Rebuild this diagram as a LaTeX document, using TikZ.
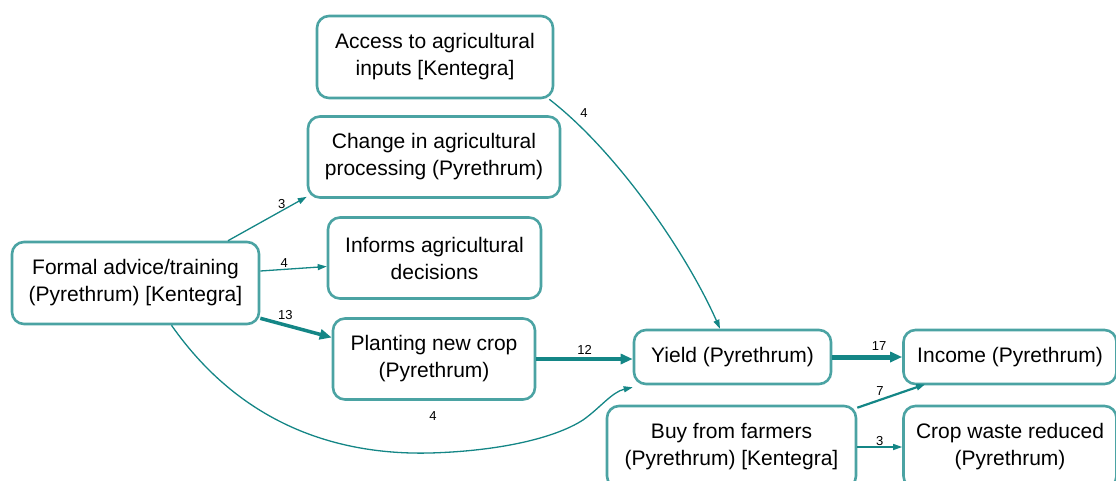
\documentclass[tikz,border=0pt]{standalone}
\usepackage{fontspec}
\setmainfont{Liberation Sans}
\usetikzlibrary{arrows.meta}
\definecolor{boxc}{RGB}{75,163,163}
\definecolor{edgec}{RGB}{20,134,134}
\tikzset{
  box/.style={draw=boxc, line width=2.6pt, rounded corners=12pt, fill=white,
    align=center, inner sep=0pt, font=\fontsize{21}{27}\selectfont, text=black},
  lbl/.style={font=\fontsize{13}{15}\selectfont, text=black, inner sep=1pt},
  conn/.style={draw=edgec, line width=#1, -{Triangle[length=9pt,width=6pt]}},
  conn/.default=1.3pt,
  thickconn/.style={draw=edgec, line width=#1, -{Triangle[length=12pt,width=10pt]}},
}
\begin{document}
\begin{tikzpicture}[x=1pt,y=-1pt]
\useasboundingbox (0,0) rectangle (1116,480);
\node[box, minimum width=236pt, minimum height=82pt] (access) at (435,57) {Access to agricultural\\inputs [Kentegra]};
\node[box, minimum width=252pt, minimum height=81pt] (change) at (434,157) {Change in agricultural\\processing (Pyrethrum)};
\node[box, minimum width=213pt, minimum height=81pt] (informs) at (434.5,258) {Informs agricultural\\decisions};
\node[box, minimum width=247pt, minimum height=82pt] (formal) at (135.5,283) {Formal advice/training\\(Pyrethrum) [Kentegra]};
\node[box, minimum width=202pt, minimum height=81pt] (planting) at (434,359) {Planting new crop\\(Pyrethrum)};
\node[box, minimum width=197pt, minimum height=54pt] (yield) at (732.5,357) {Yield (Pyrethrum)};
\node[box, minimum width=213pt, minimum height=54pt] (income) at (1010,357) {Income (Pyrethrum)};
\node[box, minimum width=249pt, minimum height=82pt] (buy) at (731.5,447) {Buy from farmers\\(Pyrethrum) [Kentegra]};
\node[box, minimum width=213pt, minimum height=82pt] (crop) at (1010,447) {Crop waste reduced\\(Pyrethrum)};

% edges
\draw[conn] ([xshift=92.5pt]formal.north) -- ([yshift=2pt]change.south west)
  node[lbl, pos=0.7, above left, xshift=4pt] {3};
\draw[conn] ([yshift=12pt]formal.east) -- ([yshift=-8.5pt]informs.west)
  node[lbl, pos=0.36, above] {4};
\draw[thickconn=3.5pt] ([yshift=7pt]formal.south east) -- ([yshift=21.5pt]planting.west)
  node[lbl, pos=0.35, above=3pt] {13};
\draw[thickconn=3.5pt] (planting.east) -- (planting.east -| yield.west)
  node[lbl, pos=0.5, above=2pt] {12};
\draw[thickconn=5pt] (yield.east) -- (income.west)
  node[lbl, pos=0.67, above=3pt] {17};
\draw[conn=2.2pt] ([yshift=-3pt]buy.north east) -- ([xshift=23pt,yshift=1pt]income.south west)
  node[lbl, pos=0.33, above left, xshift=6pt, yshift=2pt] {7};
\draw[conn] (buy.east) -- (crop.west)
  node[lbl, pos=0.5, above] {3};
\draw[conn] ([xshift=-5pt]access.south east) .. controls (615,150) and (685,250) .. ([xshift=-12.5pt]yield.north);
\node[lbl] (l4a) at (584,113) {4};
\draw[conn] ([xshift=36pt]formal.south) .. controls (245,430) and (345,455) .. (430,453)
  .. controls (500,451) and (555,438) .. (583,420)
  .. controls (600,408) and (612,392) .. ([yshift=-2pt]yield.south west);
\node[lbl] (l4b) at (433,416) {4};
\end{tikzpicture}
\end{document}
